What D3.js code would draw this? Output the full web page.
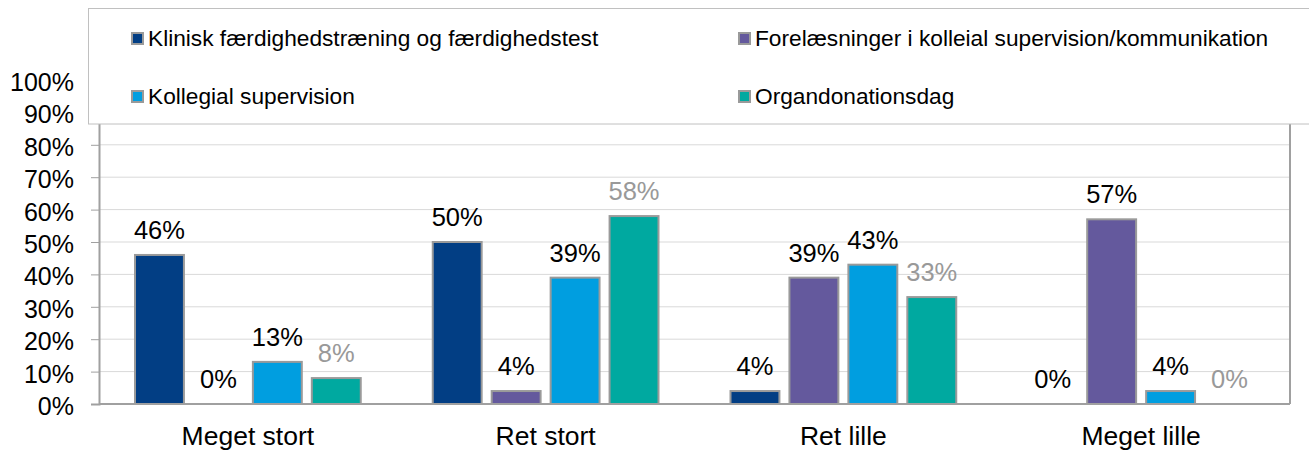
<!DOCTYPE html>
<html><head><meta charset="utf-8">
<script src="https://cdn.jsdelivr.net/npm/d3@7"></script>
<style>body{margin:0;background:#fff}svg{display:block}text{font-family:"Liberation Sans",Arial,sans-serif}</style>
</head><body>
<script>
const categories = ["Meget stort", "Ret stort", "Ret lille", "Meget lille"];
const seriesNames = ["Klinisk færdighedstræning og færdighedstest", "Forelæsninger i kolleial supervision/kommunikation", "Kollegial supervision", "Organdonationsdag"];
const klinisk = [46, 50, 4, 0];
const forelaesninger = [0, 4, 39, 57];
const kollegial = [13, 39, 43, 4];
const organdonation = [8, 58, 33, 0];
const yTicks = [0, 10, 20, 30, 40, 50, 60, 70, 80, 90, 100];

const seriesValues = [klinisk, forelaesninger, kollegial, organdonation];
const colors = ["#023e84", "#64599d", "#009ee0", "#00a9a0"];
const labelColors = ["#000", "#000", "#000", "#999"];

const W = 1309, H = 452;
const svg = d3.select("body").append("svg").attr("width", W).attr("height", H);
const mLeft = 99, mRight = 1290, mTop = 80, mBottom = 404;

const y = d3.scaleLinear().domain([0, 100]).range([mBottom, mTop]);
const x0 = d3.scaleBand().domain(categories).range([mLeft, mRight]).padding(0);
const x1 = d3.scaleBand().domain(d3.range(4)).range([36, x0.bandwidth() - 36]).paddingInner(0.17).paddingOuter(0);

// gridlines
svg.append("g").selectAll("line").data(yTicks.filter(t => t > 0)).join("line")
  .attr("x1", mLeft).attr("x2", mRight).attr("y1", d => y(d)).attr("y2", d => y(d))
  .attr("stroke", "#d9d9d9").attr("stroke-width", 1);

// y axis
const yAxis = d3.axisLeft(y).tickValues(yTicks).tickSize(8).tickFormat(d => d + "%");
const ya = svg.append("g").attr("transform", `translate(${mLeft},0)`).call(yAxis);
ya.select(".domain").attr("stroke", "#a0a0a0").attr("stroke-width", 2);
ya.selectAll(".tick line").attr("stroke", "#a0a0a0").attr("stroke-width", 1);
ya.selectAll(".tick text").attr("x", -25).attr("dy", "0.42em").attr("font-size", 25).attr("fill", "#000")
  .style("font-family", '"Liberation Sans",Arial,sans-serif');

// right border
svg.append("line").attr("x1", mRight).attr("x2", mRight).attr("y1", mTop).attr("y2", mBottom)
  .attr("stroke", "#a0a0a0").attr("stroke-width", 2);

// bars
const groups = svg.append("g").selectAll("g").data(categories).join("g")
  .attr("transform", d => `translate(${x0(d)},0)`);
groups.each(function(cat, ci) {
  const g = d3.select(this);
  seriesValues.forEach((vals, si) => {
    const v = vals[ci];
    if (v > 0) {
      g.append("rect").attr("x", x1(si)).attr("width", x1.bandwidth())
        .attr("y", y(v)).attr("height", y(0) - y(v))
        .attr("fill", colors[si]).attr("stroke", "#9a9a9a").attr("stroke-width", 2);
    }
    g.append("text").attr("x", x1(si) + x1.bandwidth() / 2).attr("y", y(v) - 16)
      .attr("text-anchor", "middle").attr("font-size", 25.5).attr("fill", labelColors[si])
      .text(v + "%");
  });
});

// baseline
svg.append("line").attr("x1", mLeft).attr("x2", mRight).attr("y1", y(0)).attr("y2", y(0))
  .attr("stroke", "#a0a0a0").attr("stroke-width", 2);

// x labels
svg.append("g").selectAll("text").data(categories).join("text")
  .attr("x", d => x0(d) + x0.bandwidth() / 2).attr("y", 445)
  .attr("text-anchor", "middle").attr("font-size", 26.5).attr("fill", "#000").text(d => d);

// legend
const lg = svg.append("g");
lg.append("rect").attr("x", 88.5).attr("y", 8.5).attr("width", 1240).attr("height", 115.5)
  .attr("fill", "#fff").attr("stroke", "#c0c0c0").attr("stroke-width", 1);
const legPos = [[131, 38], [738, 38], [131, 96], [738, 96]];
seriesNames.forEach((name, i) => {
  const [lx, ly] = legPos[i];
  lg.append("rect").attr("x", lx + 1).attr("y", ly - 5).attr("width", 11).attr("height", 11)
    .attr("fill", colors[i]).attr("stroke", "#9a9a9a").attr("stroke-width", 2);
  lg.append("text").attr("x", lx + 17).attr("y", ly + 8).attr("font-size", 22.7).attr("fill", "#000").text(name);
});
</script>
</body></html>
